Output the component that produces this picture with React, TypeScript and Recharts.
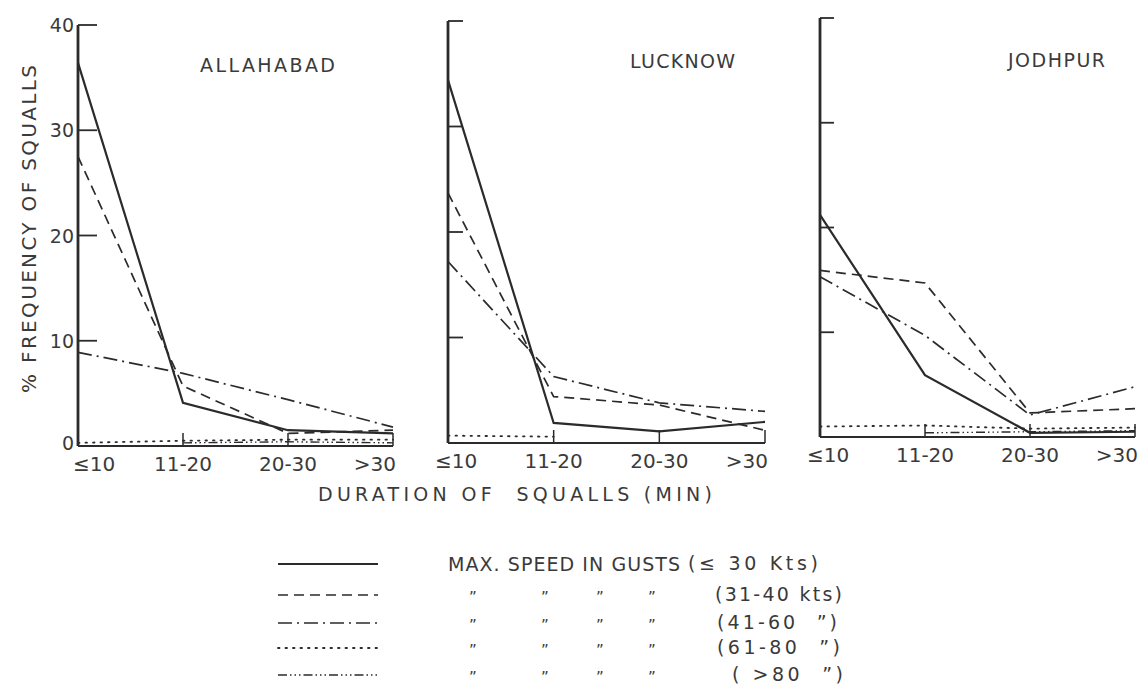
import React from "react";
import { LineChart, Line, XAxis, YAxis } from "recharts";

const INK = "#2b2b2b";
const TEXT = "#3a3a3a";
const FONT = "'DejaVu Sans', 'Open Sans', sans-serif";

const CATEGORIES = ["≤10", "11-20", "20-30", ">30"];
const Y_TICKS = [0, 10, 20, 30, 40];

// series keys in legend order
const SERIES = [
  { key: "upTo30", label: "(≤ 30 Kts)", dash: undefined, width: 2.2 },
  { key: "s31to40", label: "(31-40 kts)", dash: "10 6", width: 1.7 },
  { key: "s41to60", label: "(41-60  \u201D)", dash: "14 5 2 5", width: 1.7 },
  { key: "s61to80", label: "(61-80  \u201D)", dash: "1.5 6", width: 1.8 },
  { key: "over80", label: "( >80  \u201D)", dash: "9 3 1.5 3 1.5 3 1.5 3", width: 1.4 },
];

// % frequency of squalls, per duration class
const ALLAHABAD_30 = [36.4, 4.1, 1.5, 1.2];
const ALLAHABAD_40 = [27.5, 5.7, 1.2, 1.5];
const ALLAHABAD_60 = [8.9, 6.9, 4.4, 1.8];
const ALLAHABAD_80 = [0.3, 0.5, 0.6, 0.6];
const ALLAHABAD_OVER = [null, 0.3, 0.4, 0.3];

const LUCKNOW_30 = [34.4, 1.9, 1.1, 2.0];
const LUCKNOW_40 = [23.7, 4.4, 3.6, 1.2];
const LUCKNOW_60 = [17.2, 6.3, 3.8, 3.0];
const LUCKNOW_80 = [0.7, 0.6, null, null];
const LUCKNOW_OVER = [null, null, null, null];

const JODHPUR_30 = [21.2, 5.9, 0.4, 0.5];
const JODHPUR_40 = [15.9, 14.7, 2.3, 2.7];
const JODHPUR_60 = [15.3, 9.7, 2.1, 4.8];
const JODHPUR_80 = [1.0, 1.1, 0.8, 0.9];
const JODHPUR_OVER = [null, 0.4, 0.5, 0.6];

type Val = number | null;

function buildRows(a: Val[], b: Val[], c: Val[], d: Val[], e: Val[]) {
  return CATEGORIES.map((cat, i) => ({
    cat,
    upTo30: a[i],
    s31to40: b[i],
    s41to60: c[i],
    s61to80: d[i],
    over80: e[i],
  }));
}

// margins leave 1px for the axis width/height
const PANELS = [
  {
    name: "ALLAHABAD",
    rows: buildRows(ALLAHABAD_30, ALLAHABAD_40, ALLAHABAD_60, ALLAHABAD_80, ALLAHABAD_OVER),
    left: 0, width: 420,
    margin: { top: 25, right: 27, bottom: 33, left: 77 },
    showYLabels: true, yTick: 19, firstShift: -5,
  },
  {
    name: "LUCKNOW",
    rows: buildRows(LUCKNOW_30, LUCKNOW_40, LUCKNOW_60, LUCKNOW_80, LUCKNOW_OVER),
    left: 420, width: 380,
    margin: { top: 21, right: 35, bottom: 36, left: 27 },
    showYLabels: false, yTick: 15, firstShift: -13,
  },
  {
    name: "JODHPUR",
    rows: buildRows(JODHPUR_30, JODHPUR_40, JODHPUR_60, JODHPUR_80, JODHPUR_OVER),
    left: 790, width: 352,
    margin: { top: 18, right: 7, bottom: 42, left: 29 },
    showYLabels: false, yTick: 14, firstShift: -13,
  },
];

function YTick(props: any) {
  const { x, y, payload, showLabel, len } = props;
  return (
    <g>
      <line x1={x} x2={x + len} y1={y} y2={y} stroke={INK} strokeWidth={1.8} />
      {showLabel && (
        <text x={x - 4} y={y + (payload.value === 0 ? 4 : 7)} textAnchor="end" fontSize={19} fill={TEXT} fontFamily={FONT}>
          {payload.value}
        </text>
      )}
    </g>
  );
}

function XTick(props: any) {
  const { x, y, payload, index, firstShift } = props;
  const last = CATEGORIES.length - 1;
  let anchor = "middle";
  let tx = x;
  if (index === 0) { anchor = "start"; tx = x + firstShift; }
  if (index === last) { anchor = "end"; tx = x + 3; }
  return (
    <g>
      {index > 0 && <line x1={x} x2={x} y1={y} y2={y - 13} stroke={INK} strokeWidth={1.5} />}
      <text x={tx} y={y + 25} textAnchor={anchor} fontSize={20} fill={TEXT} fontFamily={FONT}>
        {payload.value}
      </text>
    </g>
  );
}

function Panel({ p }: { p: (typeof PANELS)[number] }) {
  return (
    <div style={{ position: "absolute", left: p.left, top: 0 }}>
      <LineChart width={p.width} height={480} data={p.rows} margin={p.margin}>
        <XAxis
          dataKey="cat"
          type="category"
          scale="point"
          padding={{ left: 0, right: 0 }}
          height={1}
          tickSize={0}
          tickMargin={0}
          interval={0}
          axisLine={{ stroke: INK, strokeWidth: 2.2 }}
          tickLine={false}
          tick={<XTick firstShift={p.firstShift} />}
        />
        <YAxis
          type="number"
          domain={[0, 40]}
          ticks={Y_TICKS}
          width={1}
          tickSize={0}
          tickMargin={0}
          interval={0}
          axisLine={{ stroke: INK, strokeWidth: 2.8 }}
          tickLine={false}
          tick={<YTick showLabel={p.showYLabels} len={p.yTick} />}
        />
        {SERIES.map((s) => (
          <Line
            key={s.key}
            type="linear"
            dataKey={s.key}
            stroke={INK}
            strokeWidth={s.width}
            strokeDasharray={s.dash}
            strokeLinecap={s.key === "s61to80" ? "round" : "butt"}
            dot={false}
            activeDot={false}
            isAnimationActive={false}
          />
        ))}
      </LineChart>
    </div>
  );
}

const TITLE_POS = [
  { x: 200, y: 72, w: 135 },
  { x: 630, y: 68, w: 105 },
  { x: 1008, y: 67, w: 97 },
];

const LEGEND_Y = [564, 595, 623, 648, 675];
const DITTO_X = [473, 545, 600, 652];
const LABEL_POS = [
  { x: 688, w: 130 },
  { x: 715, w: 127 },
  { x: 717, w: 120 },
  { x: 717, w: 123 },
  { x: 732, w: 111 },
];

function Annotations() {
  return (
    <svg width={1142} height={687} style={{ position: "absolute", left: 0, top: 0 }}>
      <rect width={1142} height={687} fill="#ffffff" />
      {PANELS.map((p, i) => (
        <text
          key={p.name}
          x={TITLE_POS[i].x}
          y={TITLE_POS[i].y}
          textLength={TITLE_POS[i].w}
          lengthAdjust="spacing"
          fontSize={19}
          fill={TEXT}
          fontFamily={FONT}
        >
          {p.name}
        </text>
      ))}
      <text
        transform="translate(36, 229) rotate(-90)"
        textAnchor="middle"
        textLength={328}
        lengthAdjust="spacing"
        fontSize={20}
        fill={TEXT}
        fontFamily={FONT}
      >
        % FREQUENCY OF SQUALLS
      </text>
      <text
        x={318}
        y={501}
        textLength={394}
        lengthAdjust="spacing"
        fontSize={19}
        fill={TEXT}
        fontFamily={FONT}
        style={{ whiteSpace: "pre" }}
      >
        {"DURATION OF  SQUALLS (MIN)"}
      </text>
      {SERIES.map((s, i) => (
        <g key={s.key}>
          <line
            x1={278}
            x2={378}
            y1={LEGEND_Y[i]}
            y2={LEGEND_Y[i]}
            stroke={INK}
            strokeWidth={s.width}
            strokeDasharray={s.dash}
            strokeLinecap={s.key === "s61to80" ? "round" : "butt"}
          />
          {i === 0 ? (
            <text x={448} y={LEGEND_Y[i] + 7} textLength={232} lengthAdjust="spacing" fontSize={19} fill={TEXT} fontFamily={FONT}>
              MAX. SPEED IN GUSTS
            </text>
          ) : (
            DITTO_X.map((dx) => (
              <text key={dx} x={dx} y={LEGEND_Y[i] + 8} textAnchor="middle" fontSize={15} fill={TEXT} fontFamily={FONT}>
                {"\u201D"}
              </text>
            ))
          )}
          <text
            x={LABEL_POS[i].x}
            y={LEGEND_Y[i] + 6}
            textLength={LABEL_POS[i].w}
            lengthAdjust="spacing"
            fontSize={19}
            fill={TEXT}
            fontFamily={FONT}
            style={{ whiteSpace: "pre" }}
          >
            {s.label}
          </text>
        </g>
      ))}
    </svg>
  );
}

export default function App() {
  return (
    <div style={{ position: "absolute", left: 0, top: 0, width: 1142, height: 687, background: "#fff" }}>
      <Annotations />
      {PANELS.map((p) => (
        <Panel key={p.name} p={p} />
      ))}
    </div>
  );
}
